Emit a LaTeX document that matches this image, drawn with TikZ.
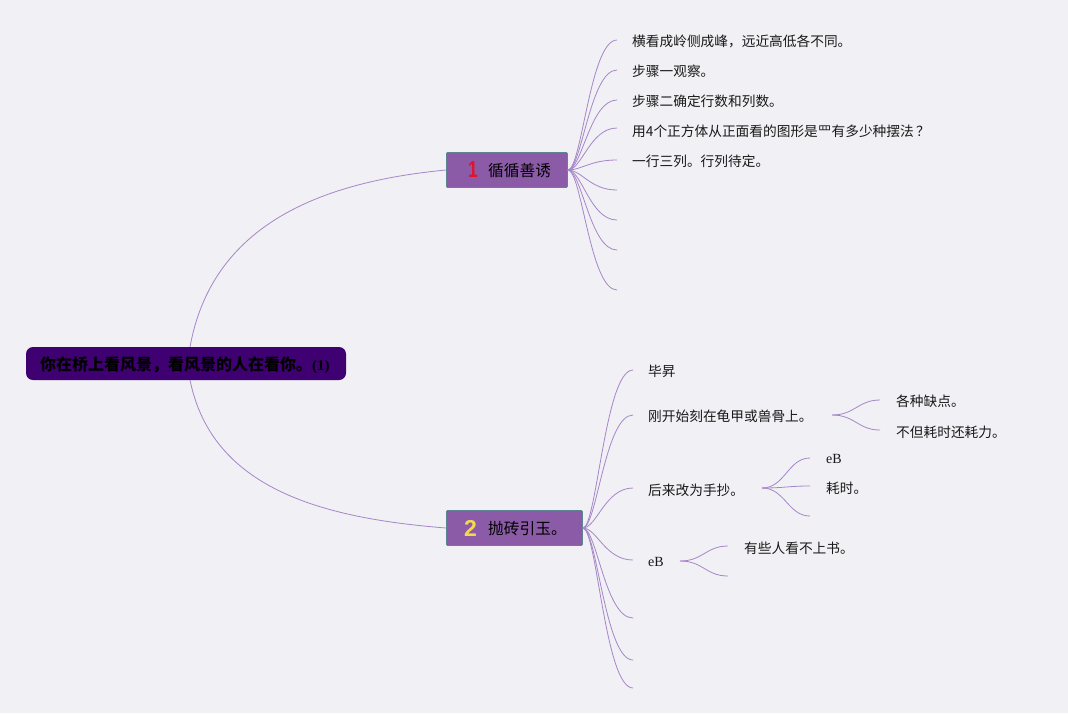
\documentclass[tikz,border=0pt]{standalone}
\usepackage{fontspec}
\setmainfont{Liberation Serif}
\newfontfamily\cjk{Noto Sans CJK SC}
\newfontfamily\numfont{Liberation Sans}
\definecolor{bg}{HTML}{F1F0F4}
\definecolor{rootfill}{HTML}{3F0072}
\definecolor{brfill}{HTML}{8B5BA8}
\definecolor{brdraw}{HTML}{5E8494}
\definecolor{link}{HTML}{A586C8}
\definecolor{numred}{HTML}{E3132C}
\definecolor{numyel}{HTML}{F4D84E}
\tikzset{
  x=1pt,y=-1pt,
  link/.style={draw=link,line width=0.8pt},
  leaf/.style={anchor=west,inner sep=0pt,font=\cjk\fontsize{13.7}{16}\selectfont,text=black!90},
  leafr/.style={anchor=west,inner sep=0pt,font=\fontsize{14}{16}\selectfont,text=black!90},
  rootbox/.style={fill=rootfill,rounded corners=7pt,minimum width=320pt,minimum height=33pt,inner sep=0pt},
  brbox/.style={fill=brfill,draw=brdraw,line width=0.8pt,rounded corners=1pt,minimum height=35pt,inner sep=0pt,anchor=west},
}
\begin{document}
\begin{tikzpicture}
\fill[bg] (0,0) rectangle (1068,713);
\useasboundingbox (0,0) rectangle (1068,713);

% root
\node[rootbox] (root) at (186,363.5) {};
\node[anchor=west,inner sep=0pt] (roottext) at (40,365) {{\cjk\bfseries\fontsize{16}{18}\selectfont 你在桥上看风景，看风景的人在看你。}{\bfseries\fontsize{15}{16}\selectfont (1)}};
\coordinate (rt) at (190,347);
\coordinate (rb) at (190,380);

% branch boxes
\node[brbox,minimum width=121pt] (b1) at (446,170) {};
\node[anchor=west,inner sep=0pt,text=numred] (n1) at (468,170) {\numfont\bfseries\fontsize{23}{24}\selectfont\scalebox{0.75}[1]{1}};
\node[anchor=west,inner sep=0pt] (b1t) at (488,171) {\cjk\fontsize{15.7}{18}\selectfont 循循善诱};

\node[brbox,minimum width=136pt] (b2) at (446,528) {};
\node[anchor=west,inner sep=0pt,text=numyel] (n2) at (464,528) {\numfont\bfseries\fontsize{23}{24}\selectfont 2};
\node[anchor=west,inner sep=0pt] (b2t) at (488,529) {\cjk\fontsize{15.7}{18}\selectfont 抛砖引玉。};

% root links
\draw[link] (rt) .. controls (212,225) and (320,182) .. (b1.west);
\draw[link] (rb) .. controls (212,488) and (320,518) .. (b2.west);

% branch 1 children
\foreach \i/\y in {1/40,2/70,3/100,4/128,5/160,6/190,7/220,8/250,9/290}{
  \coordinate (a\i) at (617,\y);
  \draw[link] (b1.east) .. controls +(14,0) and (590,\y) .. (a\i);
}
\node[leaf] (t1) at (632,41) {横看成岭侧成峰，远近高低各不同。};
\node[leaf] (t2) at (632,71) {步骤一观察。};
\node[leaf] (t3) at (632,101) {步骤二确定行数和列数。};
\node[leaf] (t4) at (632,131) {用4个正方体从正面看的图形是罒有多少种摆法\,？};
\node[leaf] (t5) at (632,161) {一行三列。行列待定。};

% branch 2 children
\foreach \i/\y in {1/370,2/415,3/488,4/560,5/618,6/660,7/688}{
  \coordinate (c\i) at (633,\y);
  \draw[link] (b2.east) .. controls +(14,0) and (605,\y) .. (c\i);
}
\node[leaf] (u1) at (648,371) {毕昇};
\node[leaf] (u2) at (648,416) {刚开始刻在龟甲或兽骨上。};
\node[leaf] (u3) at (648,490) {后来改为手抄。};
\node[leafr] (u4) at (648,562) {eB};

% sub of u2
\coordinate (s2) at (832,415);
\coordinate (s2a) at (880,400);
\coordinate (s2b) at (880,430);
\draw[link] (s2) .. controls (855,415) and (858,400) .. (s2a);
\draw[link] (s2) .. controls (855,415) and (858,430) .. (s2b);
\node[leaf] (v1) at (896,401) {各种缺点。};
\node[leaf] (v2) at (896,432) {不但耗时还耗力。};

% sub of u3
\coordinate (s3) at (762,488);
\coordinate (s3a) at (810,458);
\coordinate (s3b) at (810,486);
\coordinate (s3c) at (810,516);
\draw[link] (s3) .. controls (785,488) and (788,458) .. (s3a);
\draw[link] (s3) .. controls (785,488) and (788,486) .. (s3b);
\draw[link] (s3) .. controls (785,488) and (788,516) .. (s3c);
\node[leafr] (w1) at (826,459) {eB};
\node[leaf] (w2) at (826,488) {耗时。};

% sub of u4
\coordinate (s4) at (680,561);
\coordinate (s4a) at (728,546);
\coordinate (s4b) at (728,576);
\draw[link] (s4) .. controls (703,561) and (706,546) .. (s4a);
\draw[link] (s4) .. controls (703,561) and (706,576) .. (s4b);
\node[leaf] (x1) at (744,548) {有些人看不上书。};
\end{tikzpicture}
\end{document}
